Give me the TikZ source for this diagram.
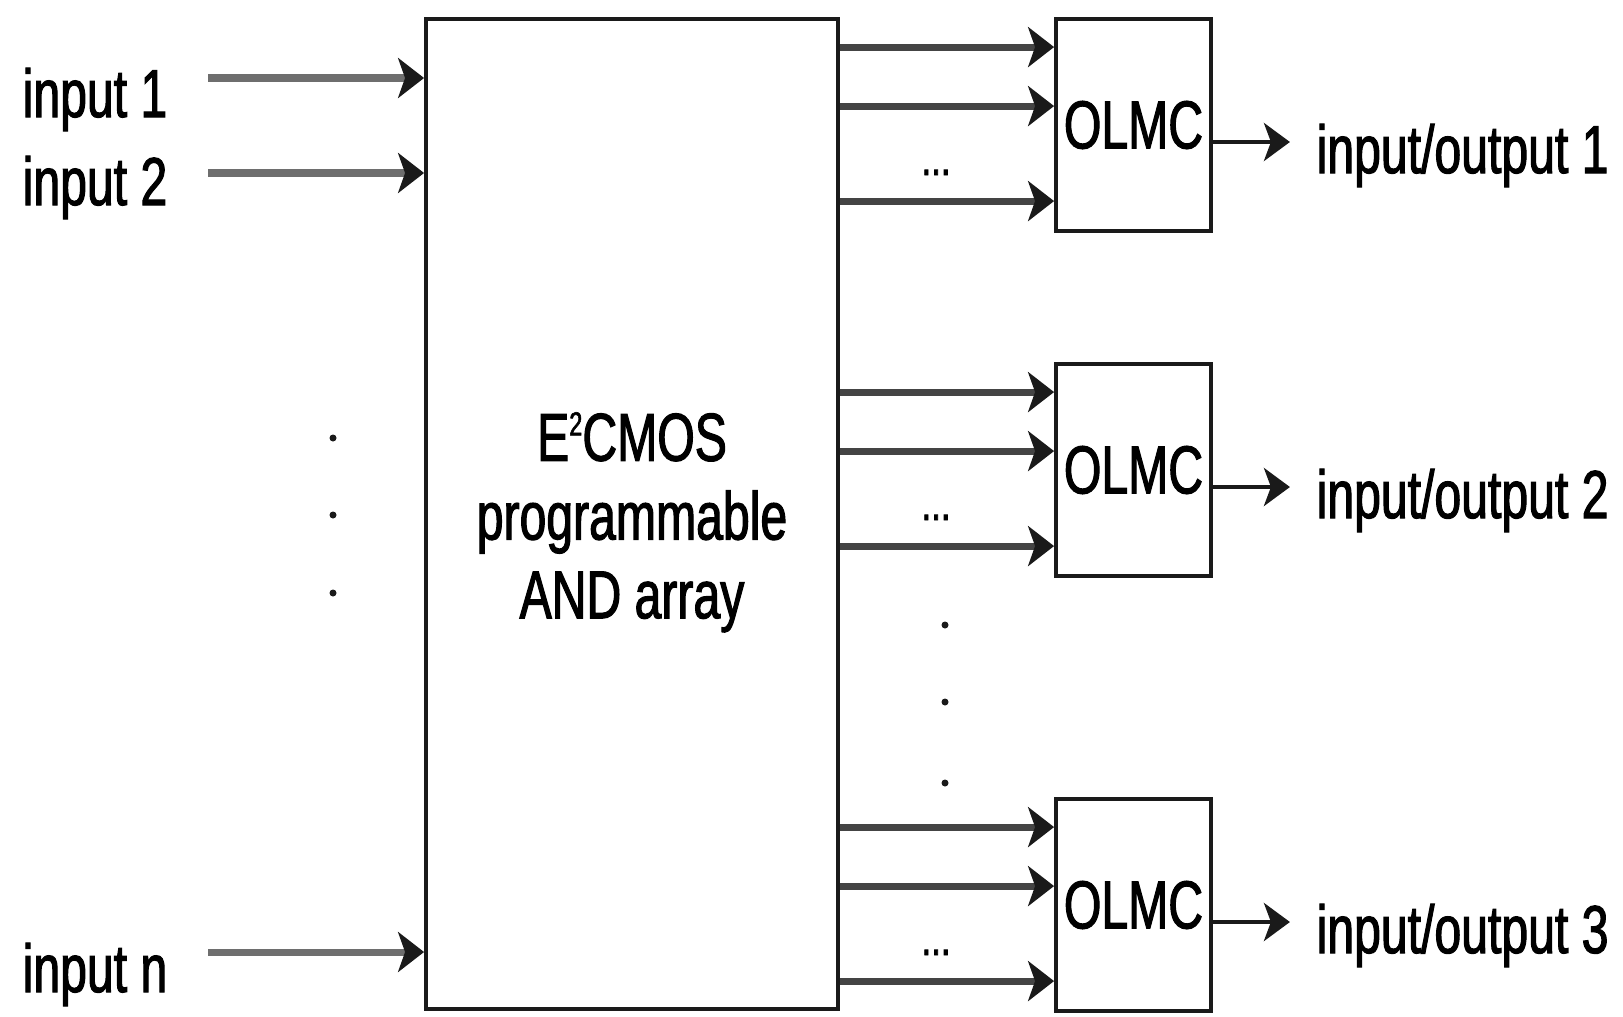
\documentclass[tikz,border=0pt]{standalone}
\usepackage{fontspec}
\setmainfont[FakeStretch=0.71, FakeBold=1.6]{Liberation Sans}
\usepackage{tikz}
\usetikzlibrary{arrows.meta,positioning,calc}
\usepackage{xcolor}
\definecolor{Ink}{HTML}{1A1A1A}
\definecolor{Wire}{HTML}{6E6E6E}
\definecolor{DarkWire}{HTML}{444444}
\tikzset{
  block/.style={draw=Ink, line width=1.1pt, fill=white, align=center, inner sep=0pt, font=\fontsize{19.3}{21.6}\selectfont},
  olmcbox/.style={block, minimum width=1.55cm, minimum height=2.12cm},
  lbl/.style={inner sep=0pt, font=\fontsize{19.3}{21.6}\selectfont},
  arrow/.style={-{Stealth[length=0.26cm, width=0.4cm, inset=0.07cm, color=Ink]}, line width=2pt, draw=Wire},
  darrow/.style={arrow, draw=DarkWire},
  outarrow/.style={-{Stealth[length=0.26cm, width=0.38cm, inset=0.07cm, color=Ink]}, line width=1.2pt, draw=Ink},
  dotmark/.style={fill=Ink}
}
\newcommand{\supsmall}[1]{\raisebox{7.2pt}{\fontsize{9.5}{9.5}\selectfont #1}}
\begin{document}
\begin{tikzpicture}
\fill[white] (0,0) rectangle (16.23,-10.16);
\useasboundingbox (0,0) rectangle (16.23,-10.16);
% the AND array
\node[block, minimum width=4.12cm, minimum height=9.90cm, font=\fontsize{19.3}{22.4}\selectfont] (arr) at (6.32,-5.14) {\rule{0pt}{18.5pt}E\supsmall{2}CMOS\\programmable\\AND array};
% inputs
\node[lbl, anchor=base west] (in1) at (0.22,-1.17) {input 1};
\node[lbl, anchor=base west] (in2) at (0.22,-2.05) {input 2};
\node[lbl, anchor=base west] (inn) at (0.22,-9.92) {input n};
\foreach \s/\y in {s1/0.78, s2/1.73, sn/9.52} {
  \coordinate (\s) at (2.08,-\y);
  \draw[arrow] (\s) -- (\s -| arr.west);
}
\foreach \y in {4.38,5.15,5.93} \fill[dotmark] (3.33,-\y) circle (0.035);
% output cells
\foreach \n/\y in {1/1.25, 2/4.70, 3/9.05} {
  \node[olmcbox] (olmc\n) at (11.335,-\y) {OLMC};
  \node[lbl, anchor=base west] (io\n) at ([xshift=1.03cm, yshift=-0.48cm]olmc\n.east) {input/output \n};
  \foreach \d in {0.30,0.89,1.84} {
    \coordinate (t) at ([yshift=-\d cm]olmc\n.north west);
    \draw[darrow] (t -| arr.east) -- (t);
  }
  \node[lbl, font=\fontsize{14}{14}\selectfont, anchor=base] (dots\n) at ([xshift=-1.18cm, yshift=-1.58cm]olmc\n.north west) {...};
  \coordinate (p\n) at ([yshift=-0.17cm]olmc\n.east);
  \draw[outarrow, shorten >=0.26cm] (p\n) -- (p\n -| io\n.west);
}
\foreach \y in {6.25,7.02,7.83} \fill[dotmark] (9.45,-\y) circle (0.035);
\end{tikzpicture}
\end{document}
